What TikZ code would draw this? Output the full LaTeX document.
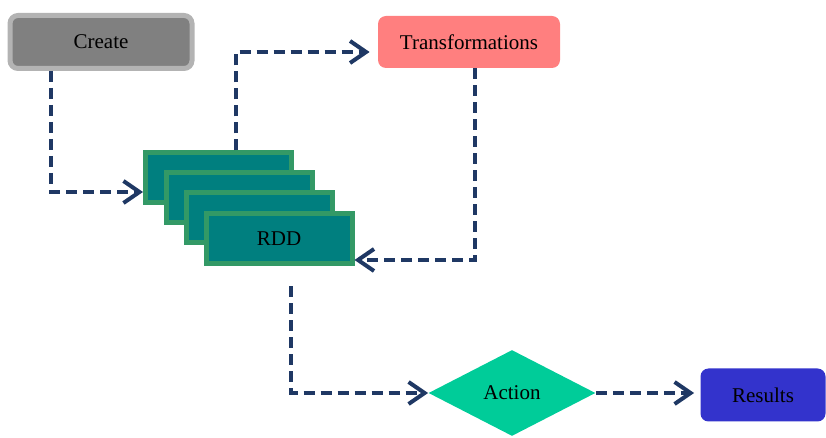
\documentclass[tikz,border=0pt]{standalone}
\usepackage{fontspec}
\setmainfont{Liberation Serif}
\usetikzlibrary{arrows.meta,shapes.geometric}

\definecolor{flowblue}{HTML}{1F3864}
\definecolor{creategray}{HTML}{808080}
\definecolor{createrim}{HTML}{B3B3B3}
\definecolor{transred}{HTML}{FF7F7F}
\definecolor{rddteal}{HTML}{007F7F}
\definecolor{rddrim}{HTML}{339966}
\definecolor{actiongreen}{HTML}{00CC99}
\definecolor{resultblue}{HTML}{3333CC}

\begin{document}
\begin{tikzpicture}[x=0.5pt,y=-0.5pt,every node/.style={font=\fontsize{10.5}{12}\selectfont}]
    \tikzset{
      roundbox/.style={rounded corners=4pt,inner sep=0pt},
      rddbox/.style={draw=rddrim,fill=rddteal,line width=2.5pt,minimum width=73pt,minimum height=25pt},
      flow/.style={flowblue,line width=2pt,dash pattern=on 5.5pt off 3pt,
                   -{Straight Barb[length=8pt,width=11pt,line width=2pt]}}
    }
    \useasboundingbox (0,0) rectangle (826,438);

    \node[roundbox,draw=createrim,fill=creategray,line width=2.5pt,
          minimum width=91pt,minimum height=26.5pt] (create) at (101,42) {Create};
    \node[roundbox,fill=transred,minimum width=91pt,minimum height=26pt] (trans) at (469,42) {Transformations};

    \node[rddbox] (rdd1) at (218.5,178) {};
    \node[rddbox] (rdd2) at (239,198) {};
    \node[rddbox] (rdd3) at (259,218) {};
    \node[rddbox] (rdd4) at (279,239) {RDD};

    \node[diamond,aspect=2,fill=actiongreen,inner sep=0pt,
          minimum width=83.5pt,minimum height=43pt] (action) at (512,393) {Action};
    \node[roundbox,fill=resultblue,minimum width=62.5pt,minimum height=26.5pt] (results) at (763,395) {Results};

    \draw[flow] ([xshift=-25pt]create.south) |- ([yshift=-7pt]rdd1.west);
    \draw[flow,shorten >=4pt] ([xshift=8.75pt]rdd1.north) |- ([yshift=-5pt]trans.west);
    \draw[flow] ([xshift=3pt]trans.south) |- ([yshift=-10.5pt]rdd4.east);
    \draw[flow] ([shift={(6pt,-10pt)}]rdd4.south) |- (action.west);
    \draw[flow,shorten >=3pt] (action.east) -- (action.east -| results.west);
\end{tikzpicture}
\end{document}
